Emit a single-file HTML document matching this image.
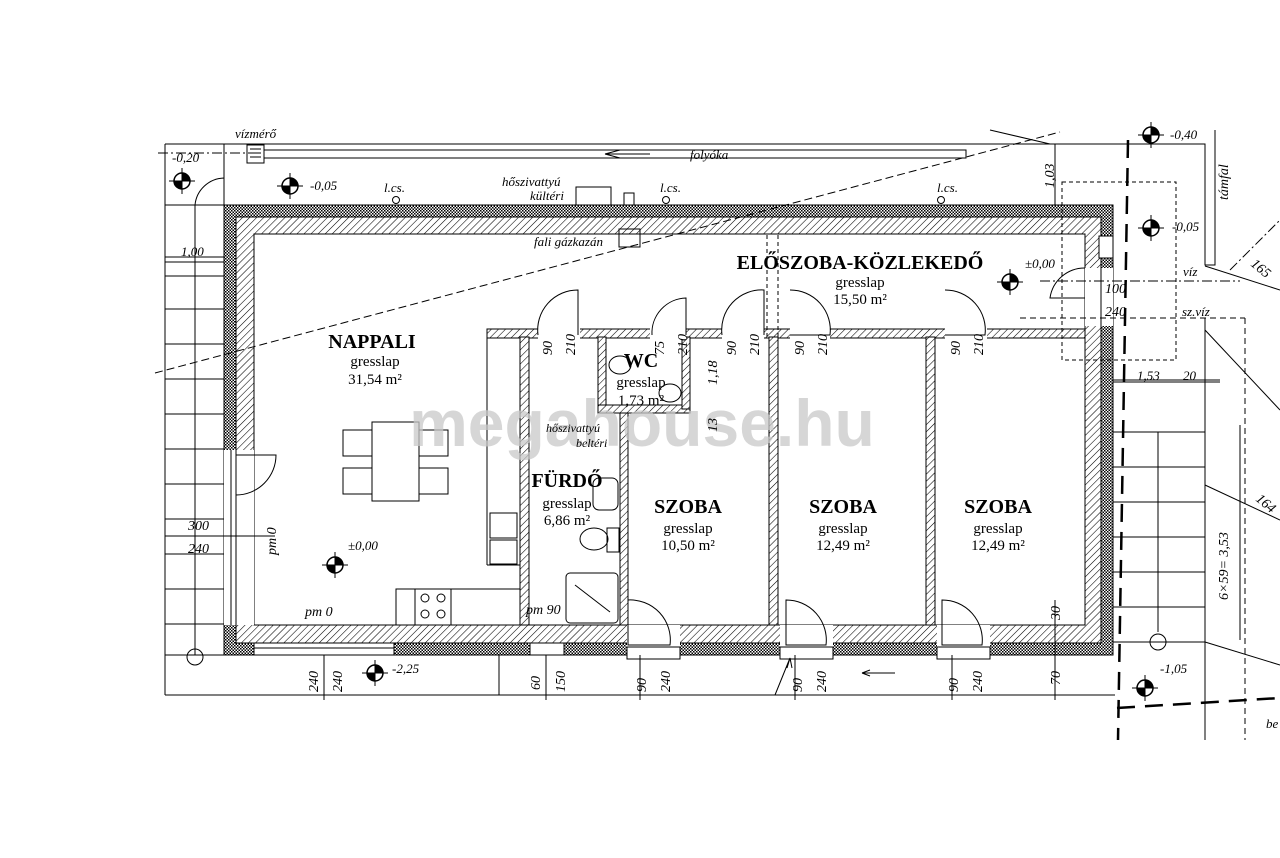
<!DOCTYPE html>
<html><head><meta charset="utf-8"><style>
html,body{margin:0;padding:0;background:#fff}
svg{display:block}
text{font-family:"Liberation Serif",serif;fill:#000}
.i{font-style:italic;font-size:13px}
.b{font-weight:bold;font-size:20px;text-anchor:middle}
.s{font-size:15px;text-anchor:middle}
</style></head><body>
<svg width="1280" height="858" viewBox="0 0 1280 858" xmlns="http://www.w3.org/2000/svg">
<defs>
<pattern id="h" width="5" height="5" patternUnits="userSpaceOnUse" patternTransform="rotate(45)"><rect width="5" height="5" fill="#fff"/><line x1="0" y1="0" x2="0" y2="5" stroke="#000" stroke-width="1.1"/></pattern>
<pattern id="x" width="3" height="3" patternUnits="userSpaceOnUse"><rect width="3" height="3" fill="#fff"/><rect width="1.5" height="1.5" fill="#000"/><rect x="1.5" y="1.5" width="1.5" height="1.5" fill="#000"/></pattern>
<g id="m"><circle r="8" fill="#fff" stroke="#000" stroke-width="1.5"/><path d="M0 0 L0 -8 A8 8 0 0 1 8 0Z M0 0 L0 8 A8 8 0 0 1 -8 0Z" fill="#000"/><line x1="-13" y1="0" x2="13" y2="0" stroke="#000"/><line x1="0" y1="-13" x2="0" y2="13" stroke="#000"/></g>
</defs>
<g fill="none" stroke="#000" stroke-width="1">
<line x1="165" y1="144" x2="1115" y2="144"/>
<line x1="165" y1="695" x2="1115" y2="695"/>
<line x1="165" y1="144" x2="165" y2="695"/>
<line x1="224" y1="144" x2="224" y2="205"/>
<line x1="165" y1="205" x2="224" y2="205"/>
<line x1="158" y1="153" x2="250" y2="153" stroke-dasharray="10 3 2 3"/>
<rect x="247" y="145" width="17" height="18"/>
<line x1="250" y1="149" x2="261" y2="149"/><line x1="250" y1="153" x2="261" y2="153"/><line x1="250" y1="157" x2="261" y2="157"/>
<rect x="264" y="150" width="702" height="8"/>
<path d="M605 154 L650 154 M605 154 L620 150 M605 154 L620 158"/>
<line x1="195" y1="205" x2="195" y2="655"/>
<g>
<line x1="165" y1="257" x2="224" y2="257"/><line x1="165" y1="276" x2="224" y2="276"/><line x1="165" y1="309" x2="224" y2="309"/><line x1="165" y1="344" x2="224" y2="344"/><line x1="165" y1="379" x2="224" y2="379"/><line x1="165" y1="414" x2="224" y2="414"/><line x1="165" y1="449" x2="224" y2="449"/><line x1="165" y1="484" x2="224" y2="484"/><line x1="165" y1="519" x2="224" y2="519"/><line x1="165" y1="554" x2="224" y2="554"/><line x1="165" y1="589" x2="224" y2="589"/><line x1="165" y1="624" x2="224" y2="624"/><line x1="165" y1="655" x2="224" y2="655"/>
</g>
<circle cx="195" cy="657" r="8"/>
<path d="M195 205 A30 30 0 0 1 224 178 L224 205"/>
<rect x="224" y="205" width="889" height="450" fill="url(#x)"/>
<rect x="236" y="217" width="865" height="426" fill="url(#h)"/>
<rect x="254" y="234" width="831" height="391" fill="#fff"/>
<rect x="1099" y="236" width="14" height="22" fill="#fff"/>
<rect x="1085" y="268" width="28" height="58" fill="#fff" stroke="none"/>
<line x1="1101" y1="268" x2="1101" y2="326"/>
<path d="M1085 298 L1050 298 A35 35 0 0 1 1085 268"/>
<rect x="254" y="643" width="140" height="12" fill="#fff"/>
<line x1="254" y1="648" x2="394" y2="648"/>
<rect x="530" y="643" width="34" height="12" fill="#fff"/>
<rect x="224" y="450" width="30" height="175" fill="#fff" stroke="none"/>
<line x1="231" y1="450" x2="231" y2="625"/><line x1="236" y1="450" x2="236" y2="625"/>
<path d="M236 495 A40 40 0 0 0 276 455 L236 455"/>
<line x1="155" y1="373" x2="1060" y2="132" stroke-dasharray="8 4"/>
<rect x="629" y="338" width="139" height="286" fill="#fff" stroke="none"/>
<rect x="779" y="338" width="146" height="286" fill="#fff" stroke="none"/>
<rect x="936" y="338" width="148" height="286" fill="#fff" stroke="none"/>
<rect x="487" y="329" width="598" height="9" fill="url(#h)"/>
<rect x="520" y="337" width="9" height="288" fill="url(#h)"/>
<rect x="620" y="413" width="8" height="212" fill="url(#h)"/>
<rect x="769" y="337" width="9" height="288" fill="url(#h)"/>
<rect x="926" y="337" width="9" height="288" fill="url(#h)"/>
<rect x="598" y="337" width="8" height="73" fill="url(#h)"/>
<rect x="598" y="405" width="92" height="8" fill="url(#h)"/>
<rect x="682" y="337" width="8" height="72" fill="url(#h)"/>
<g fill="#fff" stroke="none">
<rect x="538" y="328" width="42" height="11"/><rect x="650" y="328" width="36" height="11"/><rect x="722" y="328" width="42" height="11"/><rect x="790" y="328" width="40" height="11"/><rect x="945" y="328" width="42" height="11"/>
<rect x="627" y="625" width="53" height="31"/><rect x="780" y="625" width="53" height="31"/><rect x="937" y="625" width="53" height="31"/>
</g>
<path d="M538 335 A40 40 0 0 1 578 290 L578 335"/>
<path d="M652 335 A35 35 0 0 1 686 298 L686 335"/>
<path d="M722 335 A40 40 0 0 1 764 290 L764 335"/>
<path d="M790 290 A40 40 0 0 1 830 335 L790 335"/>
<path d="M945 290 A40 40 0 0 1 985 335 L945 335"/>
<path d="M628 600 A40 40 0 0 1 670 645 L628 645 Z"/>
<path d="M786 600 A40 40 0 0 1 826 645 L786 645 Z"/>
<path d="M942 600 A40 40 0 0 1 982 645 L942 645 Z"/>
<rect x="627" y="647" width="53" height="12"/><rect x="780" y="647" width="53" height="12"/><rect x="937" y="647" width="53" height="12"/>
<line x1="767" y1="337" x2="767" y2="234" stroke-dasharray="4 3"/><line x1="778" y1="337" x2="778" y2="234" stroke-dasharray="4 3"/>
<line x1="487" y1="337" x2="487" y2="565"/>
<line x1="487" y1="565" x2="520" y2="565"/>
<rect x="490" y="513" width="27" height="25"/><rect x="490" y="540" width="27" height="24"/>
<path d="M396 625 L396 589 L520 589"/>
<rect x="415" y="589" width="36" height="36"/>
<circle cx="425" cy="598" r="4"/><circle cx="441" cy="598" r="4"/><circle cx="425" cy="614" r="4"/><circle cx="441" cy="614" r="4"/>
<rect x="372" y="422" width="47" height="79"/>
<rect x="343" y="430" width="29" height="26"/><rect x="343" y="468" width="29" height="26"/><rect x="419" y="430" width="29" height="26"/><rect x="419" y="468" width="29" height="26"/>
<rect x="566" y="573" width="52" height="50" rx="4"/>
<line x1="575" y1="585" x2="610" y2="612"/>
<ellipse cx="594" cy="539" rx="14" ry="11"/><rect x="607" y="528" width="12" height="24"/>
<rect x="593" y="478" width="25" height="32" rx="6"/>
<ellipse cx="620" cy="365" rx="11" ry="9"/><ellipse cx="670" cy="393" rx="11" ry="9"/>
<rect x="576" y="187" width="35" height="18"/>
<rect x="624" y="193" width="10" height="12"/>
<rect x="619" y="229" width="21" height="18"/>
<circle cx="396" cy="200" r="3.5"/><circle cx="666" cy="200" r="3.5"/><circle cx="941" cy="200" r="3.5"/>
<line x1="1128" y1="140" x2="1118" y2="740" stroke-width="2.5" stroke-dasharray="18 10"/>
<line x1="1117" y1="708" x2="1280" y2="698" stroke-width="2.5" stroke-dasharray="18 10"/>
<path d="M1075 144 L1205 144 L1205 265 L1215 265 L1215 130"/>
<rect x="1062" y="182" width="114" height="178" stroke-dasharray="4 3"/>
<line x1="1040" y1="281" x2="1240" y2="281" stroke-dasharray="10 3 2 3"/>
<line x1="1020" y1="318" x2="1245" y2="318" stroke-dasharray="6 4"/>
<line x1="1245" y1="318" x2="1245" y2="740" stroke-dasharray="6 4"/>
<line x1="1205" y1="318" x2="1205" y2="740"/>
<line x1="1113" y1="380" x2="1220" y2="380"/>
<g>
<line x1="1113" y1="432" x2="1205" y2="432"/><line x1="1113" y1="467" x2="1205" y2="467"/><line x1="1113" y1="502" x2="1205" y2="502"/><line x1="1113" y1="537" x2="1205" y2="537"/><line x1="1113" y1="572" x2="1205" y2="572"/><line x1="1113" y1="607" x2="1205" y2="607"/><line x1="1113" y1="642" x2="1205" y2="642"/>
</g>
<line x1="1158" y1="432" x2="1158" y2="632"/><circle cx="1158" cy="642" r="8"/>
<line x1="1205" y1="642" x2="1280" y2="665"/>
<line x1="1205" y1="330" x2="1280" y2="410" />
<line x1="1205" y1="485" x2="1280" y2="520" />
<line x1="1230" y1="270" x2="1280" y2="220" stroke-dasharray="10 3 2 3"/>
<line x1="1205" y1="266" x2="1280" y2="290"/>
<line x1="1055" y1="144" x2="1055" y2="205"/>
<line x1="324" y1="655" x2="324" y2="700"/><line x1="499" y1="655" x2="499" y2="695"/><line x1="546" y1="655" x2="546" y2="700"/><line x1="640" y1="655" x2="640" y2="700"/><line x1="795" y1="655" x2="795" y2="700"/><line x1="952" y1="655" x2="952" y2="700"/><line x1="1055" y1="600" x2="1055" y2="700"/>
<path d="M775 695 L790 658 M787 668 L790 658 L792 668"/>
<path d="M862 673 L895 673 M862 673 L870 670 M862 673 L870 676"/>
<line x1="165" y1="536" x2="275" y2="536"/>
<line x1="165" y1="262" x2="224" y2="262"/>
<line x1="1113" y1="382" x2="1220" y2="382"/>
<line x1="1240" y1="425" x2="1240" y2="640"/>
<line x1="990" y1="130" x2="1050" y2="144"/>
</g>
<use href="#m" x="182" y="181"/><use href="#m" x="290" y="186"/><use href="#m" x="335" y="565"/><use href="#m" x="375" y="673"/><use href="#m" x="1010" y="282"/><use href="#m" x="1151" y="228"/><use href="#m" x="1145" y="688"/><use href="#m" x="1151" y="135"/>
<text x="372" y="348" class="b">NAPPALI</text>
<text x="375" y="366" class="s">gresslap</text>
<text x="375" y="384" class="s">31,54 m²</text>
<text x="860" y="269" class="b">ELŐSZOBA-KÖZLEKEDŐ</text>
<text x="860" y="287" class="s">gresslap</text>
<text x="860" y="304" class="s">15,50 m²</text>
<text x="641" y="367" class="b">WC</text>
<text x="641" y="387" class="s">gresslap</text>
<text x="641" y="405" class="s">1,73 m²</text>
<text x="567" y="487" class="b">FÜRDŐ</text>
<text x="567" y="508" class="s">gresslap</text>
<text x="567" y="525" class="s">6,86 m²</text>
<text x="688" y="513" class="b">SZOBA</text><text x="688" y="533" class="s">gresslap</text><text x="688" y="550" class="s">10,50 m²</text>
<text x="843" y="513" class="b">SZOBA</text><text x="843" y="533" class="s">gresslap</text><text x="843" y="550" class="s">12,49 m²</text>
<text x="998" y="513" class="b">SZOBA</text><text x="998" y="533" class="s">gresslap</text><text x="998" y="550" class="s">12,49 m²</text>
<text x="642" y="446" style="font-family:'Liberation Sans',sans-serif;font-weight:bold;font-size:66px;fill:#c8c8c8;fill-opacity:0.75" text-anchor="middle">megahouse.hu</text>
<text x="172" y="162" class="i">-0,20</text><text x="310" y="190" class="i">-0,05</text>
<text x="384" y="192" class="i">l.cs.</text><text x="660" y="192" class="i">l.cs.</text><text x="937" y="192" class="i">l.cs.</text>
<text x="502" y="186" class="i">hőszivattyú</text><text x="530" y="200" class="i">kültéri</text>
<text x="534" y="246" class="i">fali gázkazán</text>
<text x="690" y="159" class="i">folyóka</text>
<text x="235" y="138" class="i">vízmérő</text>
<text x="181" y="256" class="i">1,00</text>
<text x="188" y="530" class="i" style="font-size:14px">300</text><text x="188" y="553" class="i" style="font-size:14px">240</text>
<text x="348" y="550" class="i">±0,00</text><text x="1025" y="268" class="i">±0,00</text>
<text x="305" y="616" class="i" style="font-size:14px">pm 0</text><text x="526" y="614" class="i" style="font-size:14px">pm 90</text>
<text x="392" y="673" class="i">-2,25</text><text x="1160" y="673" class="i">-1,05</text>
<text x="1172" y="231" class="i">-0,05</text><text x="1170" y="139" class="i">-0,40</text>
<text x="1183" y="276" class="i">víz</text><text x="1182" y="316" class="i">sz.víz</text>
<text x="1105" y="293" class="i" style="font-size:14px">100</text><text x="1105" y="316" class="i" style="font-size:14px">240</text>
<text x="1137" y="380" class="i">1,53</text><text x="1183" y="380" class="i">20</text>
<text x="1266" y="728" class="i">be</text>
<g class="i" style="font-size:14px">
<text transform="translate(276,555) rotate(-90)">pm 0</text>
<text transform="translate(318,692) rotate(-90)">240</text><text transform="translate(342,692) rotate(-90)">240</text>
<text transform="translate(540,690) rotate(-90)">60</text><text transform="translate(565,692) rotate(-90)">150</text>
<text transform="translate(646,692) rotate(-90)">90</text><text transform="translate(670,692) rotate(-90)">240</text>
<text transform="translate(802,692) rotate(-90)">90</text><text transform="translate(826,692) rotate(-90)">240</text>
<text transform="translate(958,692) rotate(-90)">90</text><text transform="translate(982,692) rotate(-90)">240</text>
<text transform="translate(1060,685) rotate(-90)">70</text><text transform="translate(1060,620) rotate(-90)">30</text>
<text transform="translate(552,355) rotate(-90)">90</text><text transform="translate(575,355) rotate(-90)">210</text>
<text transform="translate(664,355) rotate(-90)">75</text><text transform="translate(687,355) rotate(-90)">210</text>
<text transform="translate(736,355) rotate(-90)">90</text><text transform="translate(759,355) rotate(-90)">210</text>
<text transform="translate(804,355) rotate(-90)">90</text><text transform="translate(827,355) rotate(-90)">210</text>
<text transform="translate(960,355) rotate(-90)">90</text><text transform="translate(983,355) rotate(-90)">210</text>
<text transform="translate(717,385) rotate(-90)">1,18</text><text transform="translate(717,432) rotate(-90)">13</text>
<text transform="translate(1054,188) rotate(-90)">1,03</text>
<text transform="translate(1228,200) rotate(-90)">támfal</text>
<text transform="translate(1228,600) rotate(-90)">6×59= 3,53</text>
<text transform="translate(1250,265) rotate(40)">165</text>
<text transform="translate(1255,500) rotate(40)">164</text>
</g>
<text x="546" y="432" class="i" style="font-size:12px">hőszivattyú</text><text x="576" y="447" class="i" style="font-size:12px">beltéri</text>
</svg>
</body></html>
